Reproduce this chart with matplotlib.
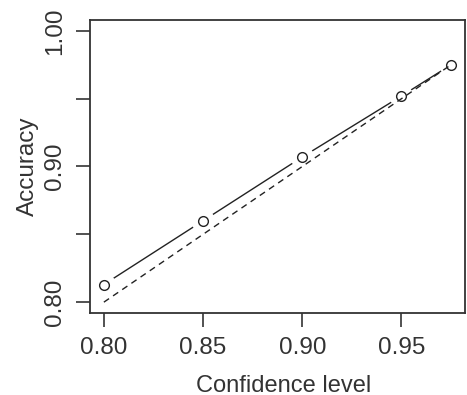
import matplotlib
matplotlib.use("Agg")
import matplotlib.pyplot as plt

plt.rcParams['font.family'] = ['Liberation Sans', 'DejaVu Sans']

# data
confidence = [0.80, 0.85, 0.90, 0.95, 0.975]
accuracy = [0.813, 0.860, 0.907, 0.952, 0.975]
x_ticks = [0.80, 0.85, 0.90, 0.95]
y_ticks = [0.80, 0.85, 0.90, 0.95, 1.00]
y_labels = ["0.80", "", "0.90", "", "1.00"]

fig = plt.figure(figsize=(4.67, 3.95), dpi=100)
ax = fig.add_axes([0.1927, 0.2076, 0.803, 0.7418])

# solid line with gaps round the points (R type="b")
ax.plot(confidence, accuracy, "-", color="#222222", lw=1.0, zorder=2)
ax.plot(confidence, accuracy, "o", ms=17, mfc="white", mec="none", zorder=3)
# reference diagonal
ax.plot(confidence, confidence, color="#222222", lw=1.0, dashes=(4.5, 3.5), zorder=4)
ax.plot(confidence, accuracy, "o", ms=7, mfc="none", mec="#222222", mew=1.0, zorder=5)

ax.set_xlim(0.793, 0.982)
ax.set_ylim(0.792, 1.008)
ax.set_xticks(x_ticks)
ax.set_xticklabels(["%.2f" % v for v in x_ticks])
ax.set_yticks(y_ticks)
ax.set_yticklabels(y_labels, rotation=90, va="center")

ax.tick_params(length=10, width=1.2, colors="#333333", labelcolor="#333333",
               labelsize=17.5, pad=7)
for s in ax.spines.values():
    s.set_linewidth(1.3)
    s.set_color("#333333")

ax.set_xlabel("Confidence level", fontsize=17, color="#333333")
ax.set_ylabel("Accuracy", fontsize=17.5, color="#333333", labelpad=4)
ax.xaxis.set_label_coords(0.517, -0.21)

fig.savefig("out.png", dpi=100)
